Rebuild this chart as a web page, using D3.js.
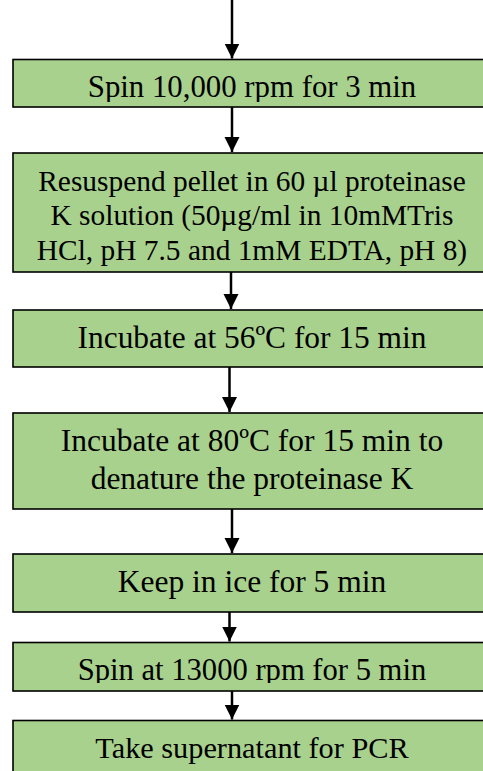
<!DOCTYPE html>
<html>
<head>
<meta charset="utf-8">
<script src="https://cdn.jsdelivr.net/npm/d3@7"></script>
<style>
  html, body { margin: 0; padding: 0; background: #fff; }
  svg { display: block; }
</style>
</head>
<body>
<div id="chart"></div>
<script>
// protocol steps, one entry per box, each entry is the wrapped lines
var stepLines = [
    ["Spin 10,000 rpm for 3 min"],
    ["Resuspend pellet in 60 \u00b5l proteinase",
     "K solution (50\u00b5g/ml in 10mMTris",
     "HCl, pH 7.5 and 1mM EDTA, pH 8)"],
    ["Incubate at 56\u00baC for 15 min"],
    ["Incubate at 80\u00baC for 15 min to",
     "denature the proteinase K"],
    ["Keep in ice for 5 min"],
    ["Spin at 13000 rpm for 5 min"],
    ["Take supernatant for PCR"]
];

// layout (page pixels)
var width = 483;
var height = 771;
var boxTop    = [59.5, 153, 310, 413, 554, 642.5, 720.5];
var boxBottom = [107, 272, 367, 509, 612, 691, 800];
var textClip  = [102, 269, 367, 509, 612, 683, 800];   // text box inner margin
var lineGap   = [0, 34.5, 0, 38, 0, 0, 0];
var fontSize  = [30.8, 29.4, 31.4, 31.5, 31.5, 30.6, 30.3];
var arrowX    = [232, 232, 231, 229.5, 232, 229.5, 232];
var boxLeft = 13, boxRight = 491;
var textX = 252;

var svg = d3.select("#chart").append("svg")
    .attr("width", width)
    .attr("height", height);

var defs = svg.append("defs");

defs.append("marker")
        .attr("id", "arrow")
        .attr("markerUnits", "userSpaceOnUse")
        .attr("refX", 15)
        .attr("refY", 7.5)
        .attr("markerWidth", 16)
        .attr("markerHeight", 16)
        .attr("orient", "auto")
    .append("path")
        .attr("d", "M0,0 L15,7.5 L0,15 z")
        .style("fill", "#000");

var line = d3.line()
    .x(function(d) { return d.x; })
    .y(function(d) { return d.y; });

// arrows: one from the top edge, then one between each pair of boxes
var arrows = [{from: 0, to: boxTop[0]}];
for (var i = 1; i < stepLines.length; i++) {
    arrows.push({from: boxBottom[i - 1], to: boxTop[i]});
}

arrows.forEach(function(a, i) {
    svg.append("path")
        .datum([{x: arrowX[i], y: a.from}, {x: arrowX[i], y: a.to - 1}])
        .attr("d", line)
        .attr("stroke", "#000")
        .attr("stroke-width", 2.5)
        .attr("fill", "none")
        .attr("marker-end", "url(#arrow)");
});

stepLines.forEach(function(lines, i) {
    var top = boxTop[i], bottom = boxBottom[i];

    defs.append("clipPath")
            .attr("id", "clip" + i)
        .append("rect")
            .attr("x", boxLeft)
            .attr("y", top)
            .attr("width", boxRight - boxLeft)
            .attr("height", textClip[i] - top);

    var g = svg.append("g");

    g.append("rect")
        .attr("x", boxLeft)
        .attr("y", top)
        .attr("width", boxRight - boxLeft)
        .attr("height", bottom - top)
        .style("fill", "#a9d18e")
        .style("stroke", "#000")
        .style("stroke-width", 1.6);

    var t = g.append("text")
        .attr("clip-path", "url(#clip" + i + ")")
        .attr("text-anchor", "middle")
        .style("font-family", "'Liberation Serif', 'Times New Roman', serif")
        .style("font-size", fontSize[i] + "px")
        .style("fill", "#000");

    lines.forEach(function(s, k) {
        t.append("tspan")
            .attr("x", textX)
            .attr("y", top + 37.5 + k * lineGap[i])
            .text(s);
    });
});
</script>
</body>
</html>
